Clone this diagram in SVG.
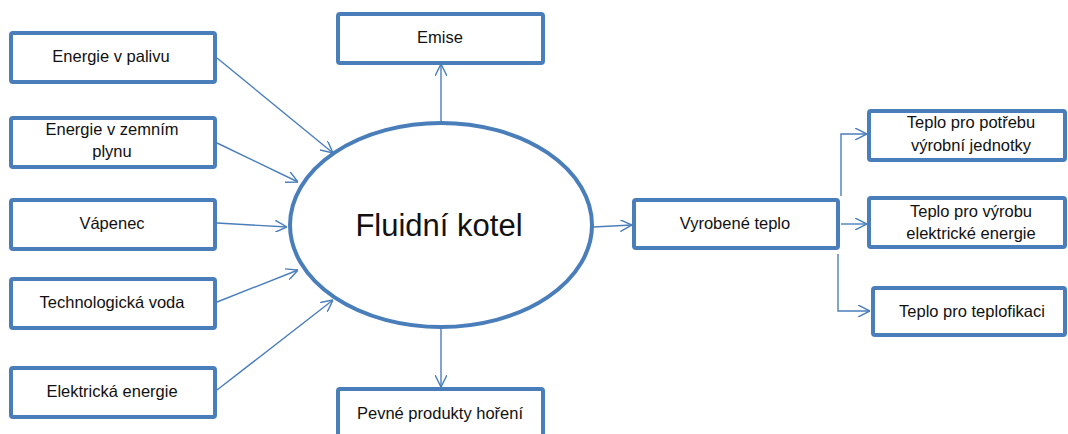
<svg xmlns="http://www.w3.org/2000/svg" width="1068" height="434" viewBox="0 0 1068 434">
<style>
.box{fill:#fff;stroke:#4a7ebb;stroke-width:4;}
.ell{fill:#fff;stroke:#4a7ebb;stroke-width:4;}
.t{font-family:"Liberation Sans",Arial,sans-serif;font-size:16.5px;fill:#111;text-anchor:middle;}
.big{font-family:"Liberation Sans",Arial,sans-serif;font-size:31px;fill:#111;text-anchor:middle;}
.c{fill:none;stroke:#4a7ebb;stroke-width:1.4;marker-end:url(#arr);}
</style>
<defs>
<marker id="arr" viewBox="0 0 10 10" refX="10" refY="5" markerWidth="12" markerHeight="12" markerUnits="userSpaceOnUse" orient="auto">
<path d="M0,0 L10,5 L0,10" fill="none" stroke="#4a7ebb" stroke-width="1.2"/>
</marker>
</defs>
<rect width="1068" height="434" fill="#fff"/>
<g id="connectors">
<line class="c" x1="217" y1="58" x2="333" y2="153"/>
<line class="c" x1="217" y1="143" x2="298" y2="182"/>
<line class="c" x1="217" y1="223" x2="287" y2="227"/>
<line class="c" x1="217" y1="302" x2="298" y2="270"/>
<line class="c" x1="217" y1="390" x2="333" y2="300"/>
<line class="c" x1="441" y1="123" x2="441" y2="64"/>
<line class="c" x1="441" y1="327" x2="441" y2="387"/>
<line class="c" x1="593" y1="227" x2="632" y2="225"/>
<path class="c" d="M841,196 V134 H867"/>
<line class="c" x1="841" y1="224" x2="867" y2="224"/>
<path class="c" d="M838,254 V311 H870"/>
</g>
<g id="n_palivo"><rect class="box" x="11" y="33" width="204" height="49" rx="2"/><text class="t" x="111" y="62">Energie v palivu</text></g>
<g id="n_plyn"><rect class="box" x="11" y="118" width="204" height="49" rx="2"/><text class="t" x="112" y="135">Energie v zemním</text><text class="t" x="112" y="157">plynu</text></g>
<g id="n_vapenec"><rect class="box" x="11" y="200" width="204" height="49" rx="2"/><text class="t" x="112" y="229">Vápenec</text></g>
<g id="n_voda"><rect class="box" x="11" y="279" width="204" height="49" rx="2"/><text class="t" x="112" y="308">Technologická voda</text></g>
<g id="n_elektrina"><rect class="box" x="11" y="368" width="204" height="49" rx="2"/><text class="t" x="112" y="397">Elektrická energie</text></g>
<g id="n_emise"><rect class="box" x="338" y="14" width="205" height="49" rx="2"/><text class="t" x="440" y="43">Emise</text></g>
<g id="n_pevne"><rect class="box" x="338" y="389" width="205" height="50" rx="2"/><text class="t" x="440" y="419">Pevné produkty hoření</text></g>
<g id="n_kotel"><ellipse class="ell" cx="441" cy="225" rx="151" ry="102"/><text class="big" x="439" y="236">Fluidní kotel</text></g>
<g id="n_vyrobene"><rect class="box" x="634" y="200" width="204" height="48" rx="2"/><text class="t" x="735" y="229">Vyrobené teplo</text></g>
<g id="n_potreba"><rect class="box" x="869" y="111" width="196" height="49" rx="2"/><text class="t" x="971" y="128">Teplo pro potřebu</text><text class="t" x="971" y="151">výrobní jednotky</text></g>
<g id="n_vyroba"><rect class="box" x="869" y="198" width="196" height="49" rx="2"/><text class="t" x="971" y="217">Teplo pro výrobu</text><text class="t" x="971" y="239">elektrické energie</text></g>
<g id="n_teplofikace"><rect class="box" x="873" y="288" width="192" height="47" rx="2"/><text class="t" x="972" y="317">Teplo pro teplofikaci</text></g>
</svg>
